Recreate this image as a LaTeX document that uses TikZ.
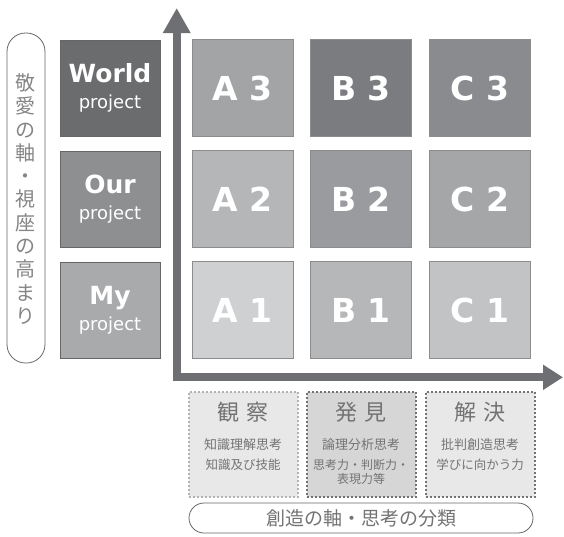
\documentclass[tikz,border=0pt]{standalone}
\usepackage{fontspec}
\setmainfont{DejaVu Sans}
\newfontfamily\jpfont{Noto Sans CJK JP}
\newfontfamily\latfont{DejaVu Sans}
\usetikzlibrary{arrows.meta}
\definecolor{axisgray}{HTML}{6E6F72}
\definecolor{cA3}{HTML}{A3A4A6}
\definecolor{cB3}{HTML}{7B7C7F}
\definecolor{cC3}{HTML}{8A8B8E}
\definecolor{cA2}{HTML}{B5B6B8}
\definecolor{cB2}{HTML}{9A9B9E}
\definecolor{cC2}{HTML}{A5A6A8}
\definecolor{cA1}{HTML}{CFD0D2}
\definecolor{cB1}{HTML}{B6B7B9}
\definecolor{cC1}{HTML}{C2C3C5}
\definecolor{cW}{HTML}{6B6C6E}
\definecolor{cO}{HTML}{8E8F91}
\definecolor{cM}{HTML}{A9AAAC}
\begin{document}
\begin{tikzpicture}[x=1pt,y=-1pt,
  cell/.style={draw=black!45,line width=0.6pt,minimum width=101pt,minimum height=97pt,inner sep=0pt,
    text=white,font=\latfont\bfseries\fontsize{33}{33}\selectfont},
  proj/.style={draw=black!60,line width=0.6pt,minimum width=100pt,minimum height=96pt,inner sep=0pt,
    text=white,align=center,font=\latfont\fontsize{18}{26}\selectfont},
  catbox/.style={dotted,line width=2pt,minimum width=109pt,minimum height=105pt,inner sep=0pt},
  pill/.style={draw=black!60,line width=0.8pt,rounded corners=#1},
  ax/.style={axisgray,line width=8pt},
  jp/.style={font=\jpfont\fontsize{#1}{#1}\selectfont,text=black!55}
]
\useasboundingbox (0,0) rectangle (564,536);
% left pill label
\draw[pill=18.5pt] (7,33) rectangle (45,363);
\node[align=center,inner sep=0pt,text=black!48,font=\jpfont\fontsize{20}{23.3}\selectfont] (vlabel) at (26,199)
 {敬\\愛\\の\\軸\\・\\視\\座\\の\\高\\ま\\り};
% project boxes
\newcommand\projtxt[1]{{\bfseries\fontsize{25}{26}\selectfont #1}\\project}
\node[proj,fill=cW] (world) at (110,88) {\projtxt{World}};
\node[proj,fill=cO] (our) at (110,199) {\projtxt{Our}};
\node[proj,fill=cM] (my) at (110,310) {\projtxt{My}};
% grid
\node[cell,fill=cA3] (A3) at (242.5,88) {A 3};
\node[cell,fill=cB3] (B3) at (361,88) {B 3};
\node[cell,fill=cC3] (C3) at (480,88) {C 3};
\node[cell,fill=cA2] (A2) at (242.5,199) {A 2};
\node[cell,fill=cB2] (B2) at (361,199) {B 2};
\node[cell,fill=cC2] (C2) at (480,199) {C 2};
\node[cell,fill=cA1] (A1) at (242.5,310) {A 1};
\node[cell,fill=cB1] (B1) at (361,310) {B 1};
\node[cell,fill=cC1] (C1) at (480,310) {C 1};
% axes
\coordinate (origin) at (176.7,377.3);
\coordinate (ytip) at (176.7,8);
\coordinate (xtip) at (563,377.3);
\draw[ax,-{Triangle[width=26pt,length=25pt]}] ([yshift=-4pt]origin) -- (ytip);
\draw[ax,-{Triangle[width=24pt,length=20pt]}] ([xshift=-4pt]origin) -- (xtip);
% category boxes
\node[catbox,draw=black!30,fill=black!9] (obs) at (243,444) {};
\node[catbox,draw=black!55,fill=black!16] (disc) at (361,444) {};
\node[catbox,draw=black!55,fill=black!9] (solv) at (480,444) {};
\foreach \b/\t/\u/\a/\c in {obs/観/察/知識理解思考/知識及び技能,solv/解/決/批判創造思考/学びに向かう力}{
  \node[jp=22] at ([yshift=32pt]\b.center) {\t\hspace{8pt}\u};
  \node[jp=13] at ([yshift=-1pt]\b.center) {\a};
  \node[jp=12.5] at ([yshift=-21pt]\b.center) {\c};
}
\node[jp=22] (discT) at ([yshift=32pt]disc.center) {発\hspace{8pt}見};
\node[jp=13] (discA) at ([yshift=-1pt]disc.center) {論理分析思考};
\node[align=center,text=black!55,font=\jpfont\fontsize{12}{14}\selectfont] (discB) at ([yshift=-28pt]disc.center) {思考力・判断力・\\表現力等};
% bottom pill
\draw[pill=15pt] (189,503) rectangle (533,533);
\node[jp=19] (hlabel) at (361,518) {創造の軸・思考の分類};
\end{tikzpicture}
\end{document}
